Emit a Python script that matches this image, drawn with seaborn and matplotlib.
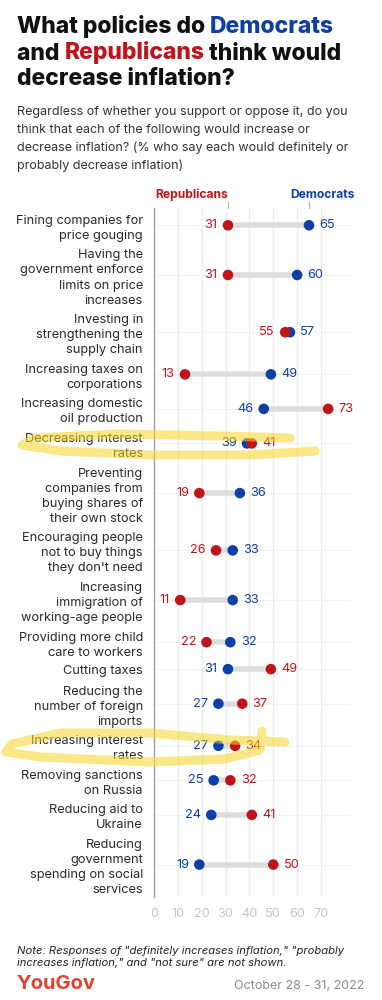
import numpy as np
import pandas as pd
import matplotlib
matplotlib.use("Agg")
import matplotlib.pyplot as plt
import seaborn as sns
from matplotlib.lines import Line2D

# ---------------- data ----------------
policies = [
    "Fining companies for\nprice gouging",
    "Having the\ngovernment enforce\nlimits on price\nincreases",
    "Investing in\nstrengthening the\nsupply chain",
    "Increasing taxes on\ncorporations",
    "Increasing domestic\noil production",
    "Decreasing interest\nrates",
    "Preventing\ncompanies from\nbuying shares of\ntheir own stock",
    "Encouraging people\nnot to buy things\nthey don't need",
    "Increasing\nimmigration of\nworking-age people",
    "Providing more child\ncare to workers",
    "Cutting taxes",
    "Reducing the\nnumber of foreign\nimports",
    "Increasing interest\nrates",
    "Removing sanctions\non Russia",
    "Reducing aid to\nUkraine",
    "Reducing\ngovernment\nspending on social\nservices",
]
rep_values = [31, 31, 55, 13, 73, 41, 19, 26, 11, 22, 49, 37, 34, 32, 41, 50]
dem_values = [65, 60, 57, 49, 46, 39, 36, 33, 33, 32, 31, 27, 27, 25, 24, 19]
x_ticks = [0, 10, 20, 30, 40, 50, 60, 70]

BLUE = "#0d3fa6"
RED = "#c0141b"

sns.set_theme(style="white")
plt.rcParams["font.family"] = ["Inter", "DejaVu Sans"]

W, H = 382, 1000
fig = plt.figure(figsize=(3.82, 10), dpi=100)
fig.patch.set_facecolor("white")


def fx(px):
    return px / W


def fy(py):
    return 1 - py / H


ax = fig.add_axes([fx(154), fy(897), fx(352) - fx(154), fy(208) - fy(897)])

n = len(policies)
n_lines = np.array([p.count("\n") + 1 for p in policies])
row_h = n_lines + 0.28
bottoms = np.cumsum(row_h)
centers = bottoms - row_h / 2
total = bottoms[-1]
XMAX = 83

df = pd.DataFrame({
    "policy": policies * 2,
    "party": ["Democrats"] * n + ["Republicans"] * n,
    "value": dem_values + rep_values,
    "ypos": list(centers) * 2,
})

ax.set_xlim(0, XMAX)
ax.set_ylim(total, 0)

for xt in x_ticks[1:]:
    ax.axvline(xt, color="#ededed", lw=1, zorder=0)
ax.hlines(centers, 0, XMAX, colors="#e4e4e4", linestyles=(0, (1, 1.5)), lw=0.8, zorder=0)

lo = np.minimum(rep_values, dem_values)
hi = np.maximum(rep_values, dem_values)
ax.hlines(centers, lo, hi, colors="#dddddd", lw=4, zorder=1)

sns.scatterplot(data=df, x="value", y="ypos", hue="party",
                palette={"Democrats": BLUE, "Republicans": RED},
                s=58, edgecolor="none", linewidth=0, legend=False, ax=ax, zorder=3)

for yc, r, d in zip(centers, rep_values, dem_values):
    if r < d:
        (lv, lc), (rv, rc) = (r, RED), (d, BLUE)
    else:
        (lv, lc), (rv, rc) = (d, BLUE), (r, RED)
    ax.annotate(str(lv), xy=(lv, yc), xytext=(-7.5, 0), textcoords="offset points",
                ha="right", va="center", color=lc, fontsize=9.2)
    ax.annotate(str(rv), xy=(rv, yc), xytext=(7.5, 0), textcoords="offset points",
                ha="left", va="center", color=rc, fontsize=9.2)

# legend-style labels above first row
r0, d0 = rep_values[0], dem_values[0]
for v in (r0, d0):
    ax.plot([v, v], [-0.42, 0], color="#b0b0b0", lw=0.8, clip_on=False)
ax.text(r0, -0.45, "Republicans", ha="right", va="bottom", color=RED,
        fontsize=8.7, fontweight="bold")
ax.text(70.8, -0.45, "Democrats", ha="center", va="bottom", color=BLUE,
        fontsize=8.7, fontweight="bold")

for s in ["top", "right", "bottom"]:
    ax.spines[s].set_visible(False)
ax.spines["left"].set_color("#a0a0a0")
ax.spines["left"].set_linewidth(1)
ax.set_yticks(centers)
ax.set_yticklabels(policies, fontsize=9.2, color="#2a2a2a", linespacing=1.34)
ax.set_xticks(x_ticks)
ax.set_xticklabels([str(t) for t in x_ticks], fontsize=9.2, color="#c6c6c6")
ax.tick_params(axis="y", length=0, pad=8)
ax.tick_params(axis="x", length=0, pad=8)
ax.set_xlabel("")
ax.set_ylabel("")
ax.grid(False)

# ---------------- title ----------------
renderer = fig.canvas.get_renderer()


def text_width(txt, **kw):
    t1 = fig.text(0, 0, "|" + txt + "|", **kw)
    t2 = fig.text(0, 0, "||", **kw)
    w = t1.get_window_extent(renderer).width - t2.get_window_extent(renderer).width
    t1.remove()
    t2.remove()
    return w


def rich_line(x_px, y_px, parts, **kw):
    x = x_px
    for txt, col in parts:
        fig.text(fx(x), fy(y_px), txt, color=col, va="baseline", ha="left", **kw)
        x += text_width(txt, **kw)


tkw = dict(fontsize=16.5, fontweight="heavy")
rich_line(17, 33, [("What policies do ", "#111111"), ("Democrats", BLUE)], **tkw)
rich_line(17, 59.5, [("and ", "#111111"), ("Republicans", RED), (" think would", "#111111")], **tkw)
rich_line(17, 85, [("decrease inflation?", "#111111")], **tkw)

sub_lines = [
    "Regardless of whether you support or oppose it, do you",
    "think that each of the following would increase or",
    "decrease inflation? (% who say each would definitely or",
    "probably decrease inflation)",
]
for i, line in enumerate(sub_lines):
    fig.text(fx(17), fy(115 + 18 * i), line, fontsize=9.0, color="#333333", va="baseline")

# ---------------- footer ----------------
fig.text(fx(17), fy(954), 'Note: Responses of "definitely increases inflation," "probably',
         fontsize=8.1, style="italic", color="#222222", va="baseline")
fig.text(fx(17), fy(966), 'increases inflation," and "not sure" are not shown.',
         fontsize=8.1, style="italic", color="#222222", va="baseline")
fig.text(fx(17), fy(989), "YouGov", fontsize=14.5, fontweight="bold", color="#e0412c",
         va="baseline")
fig.text(fx(364), fy(989), "October 28 - 31, 2022", fontsize=9, color="#8a8a8a",
         va="baseline", ha="right")

# ---------------- highlighter strokes ----------------
hl1 = [(315, 451), (250, 455), (150, 455), (60, 451), (22, 445), (35, 438),
       (120, 434), (220, 436), (290, 438)]
hl2 = [(285, 742), (230, 740), (150, 733), (60, 733), (12, 744), (6, 752),
       (40, 757), (150, 762), (225, 759), (260, 750), (262, 731)]
for pts in (hl1, hl2):
    xs = [fx(p[0]) for p in pts]
    ys = [fy(p[1]) for p in pts]
    fig.add_artist(Line2D(xs, ys, transform=fig.transFigure, color="#f7d526",
                          alpha=0.55, lw=6.5, solid_capstyle="round",
                          solid_joinstyle="round", zorder=10))

fig.savefig("out.png", dpi=100, facecolor="white")
